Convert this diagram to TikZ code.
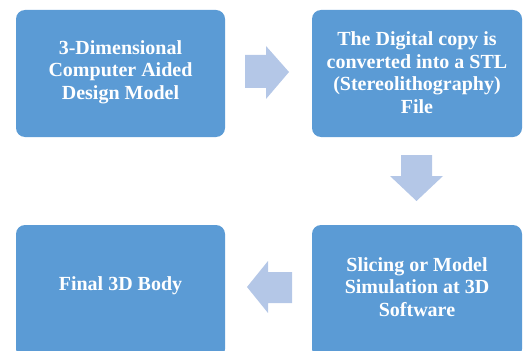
\documentclass[tikz,border=0pt]{standalone}
\usepackage{fontspec}
\setmainfont{Liberation Serif}
\definecolor{boxblue}{HTML}{5B9BD5}
\definecolor{arrowblue}{HTML}{B4C7E7}
\begin{document}
\begin{tikzpicture}[x=1pt,y=-1pt,
  stepbox/.style={fill=boxblue,draw=none,rounded corners=9pt},
  steptext/.style={text=white,align=center,font=\bfseries\fontsize{20}{22.5}\selectfont},
  blockarrow/.style={fill=arrowblue,draw=none}]
\useasboundingbox (0,0) rectangle (529,350);
\fill[stepbox] (16,10) rectangle (225,137);
\fill[stepbox] (312,10) rectangle (522,137);
\fill[stepbox] (312,225) rectangle (522,358);
\fill[stepbox] (16,225) rectangle (225,358);
\clip (0,0) rectangle (529,350);
\node[steptext] (a) at (120.5,72) {3-Dimensional\\Computer Aided\\Design Model};
\node[steptext] (b) at (417,72.5) {The Digital copy is\\converted into a STL\\(Stereolithography)\\File};
\node[steptext] (c) at (417,287) {Slicing or Model\\Simulation at 3D\\Software};
\node[steptext] (d) at (120.5,286) {Final 3D Body};
% block arrows
\fill[blockarrow] (245,55) -- (266,55) -- (266,46) -- (289,72) -- (266,99) -- (266,88) -- (245,88) -- cycle;
\fill[blockarrow] (401,155) -- (432,155) -- (432,176) -- (443,176) -- (416.5,201) -- (390,176) -- (401,176) -- cycle;
\fill[blockarrow] (292,272) -- (268,272) -- (268,261) -- (247,287) -- (268,313) -- (268,303) -- (292,303) -- cycle;
\end{tikzpicture}
\end{document}
